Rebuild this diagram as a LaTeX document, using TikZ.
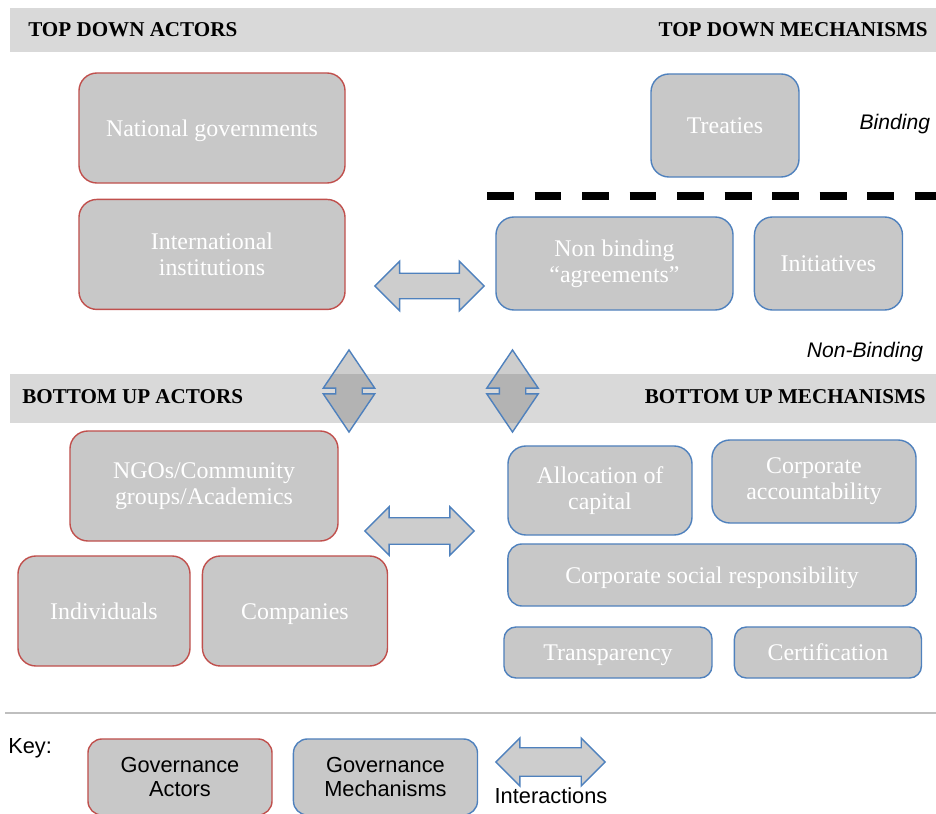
\documentclass[tikz,border=0pt]{standalone}
\usepackage{fontspec}
\setmainfont{Liberation Serif}
\newfontfamily\keyfont{Liberation Sans}
\usetikzlibrary{positioning, shapes.arrows}
\definecolor{actorred}{HTML}{C0504D}
\definecolor{mechblue}{HTML}{4F81BD}
\definecolor{boxgray}{HTML}{C8C8C8}
\definecolor{bandgray}{HTML}{D9D9D9}
\definecolor{rulegray}{HTML}{BFBFBF}
\tikzset{
  gbox/.style={rectangle, rounded corners=0.45cm, draw=#1, fill=boxgray, line width=1pt,
               align=center, text=white, inner sep=2pt,
               font=\fontsize{17}{18.5}\selectfont},
  gbox/.default=actorred,
  actor/.style={gbox=actorred},
  mech/.style={gbox=mechblue},
  oneline/.style={text height=15.5pt, text depth=3.7pt},
  twoline/.style={execute at begin node={\vspace*{4pt}}},
  band/.style={fill=bandgray, draw=none},
  hdr/.style={font=\fontsize{15}{18}\selectfont\bfseries, inner sep=0pt},
  iarrow/.style={double arrow, double arrow head extend=#1, draw=mechblue, line width=1pt,
                 fill=black!60, fill opacity=0.33, draw opacity=1},
  iarrow/.default=0.3cm,
  keytext/.style={font=\keyfont\fontsize{15.5}{17.5}\selectfont, align=center},
  sidetext/.style={font=\keyfont\itshape\fontsize{15}{18}\selectfont},
}

\begin{document}
\begin{tikzpicture}[
  x=0.025cm, y=-0.025cm,
  node distance=0.375cm and 0.5cm
]
  \useasboundingbox (0,0) rectangle (936,814);
  \clip (0,0) rectangle (936,814);

  % header bands
  \fill[band] (10,8) rectangle (936,52);
  \fill[band] (10,374) rectangle (936,423);
  \node[hdr, anchor=west] (tdact) at (28,30) {TOP DOWN ACTORS};
  \node[hdr, anchor=east] (tdmech) at (928,30) {TOP DOWN MECHANISMS};
  \node[hdr, anchor=west] (buact) at (22,397) {BOTTOM UP ACTORS};
  \node[hdr, anchor=east] (bumech) at (926,397) {BOTTOM UP MECHANISMS};

  % top down
  \node[actor, oneline, minimum width=6.65cm, minimum height=2.75cm] (natgov) at (212,128) {National governments};
  \node[actor, minimum width=6.65cm, minimum height=2.75cm, below=of natgov] (intinst) {International\\institutions};
  \node[mech, oneline, minimum width=3.7cm, minimum height=2.575cm] (treaties) at (725,125.5) {Treaties};
  \node[mech, twoline, minimum width=5.925cm, minimum height=2.325cm] (nonbind) at (614.5,263.5) {Non binding\\“agreements”};
  \node[mech, oneline, minimum width=3.7cm, minimum height=2.325cm, right=0.5cm of nonbind] (initiatives) {Initiatives};
  \node[sidetext, anchor=east] (binding) at (935,124) {Binding};
  \node[sidetext, anchor=east] (nonbinding) at (928,352) {Non-Binding};
  \coordinate (dashL) at (487,196);
  \coordinate (dashR) at (940,196);
  \draw[line width=5pt, dash pattern=on 19.1pt off 14.7pt] (dashL) -- (dashR);

  % bottom up
  \node[actor, twoline, minimum width=6.7cm, minimum height=2.75cm] (ngos) at (204,486) {NGOs/Community\\groups/Academics};
  \node[actor, oneline, minimum width=4.3cm, minimum height=2.75cm] (indiv) at (104,611) {Individuals};
  \node[actor, oneline, minimum width=4.625cm, minimum height=2.75cm, right=0.275cm of indiv] (companies) {Companies};
  \node[mech, twoline, minimum width=4.6cm, minimum height=2.225cm] (alloc) at (600,490.5) {Allocation of\\capital};
  \node[mech, twoline, minimum width=5.1cm, minimum height=2.075cm] (corpacc) at (814,481.5) {Corporate\\accountability};
  \node[mech, oneline, minimum width=10.2cm, minimum height=1.55cm, rounded corners=0.35cm] (csr) at (712,575) {Corporate social responsibility};
  \node[mech, oneline, minimum width=5.2cm, minimum height=1.275cm, rounded corners=0.3cm] (transp) at (608,652.5) {Transparency};
  \node[mech, oneline, minimum width=4.675cm, minimum height=1.275cm, rounded corners=0.3cm, right=0.525cm of transp] (cert) {Certification};

  % interactions
  \node[iarrow, inner sep=0.3cm, minimum height=2.725cm] (arrtop) at (429.5,286) {};
  \node[iarrow=0.275cm, inner sep=0.3125cm, minimum height=2.725cm] (arrbot) at (419.5,531) {};
  \node[iarrow=0.3125cm, inner sep=0.3125cm, double arrow tip angle=68, shape border rotate=90,
        minimum height=2.05cm] (varrA) at (349,391) {};
  \node[iarrow=0.3125cm, inner sep=0.3125cm, double arrow tip angle=68, shape border rotate=90,
        minimum height=2.05cm] (varrB) at (512.5,391) {};

  % key
  \draw[rulegray, line width=1.2pt] (5,713) -- (936,713);
  \node[keytext, anchor=west, inner sep=0pt] (keylbl) at (8,748) {Key:};
  \node[actor, keytext, text=black, minimum width=4.6cm, minimum height=1.9cm, rounded corners=0.35cm] (keyact) at (180,777) {Governance\\Actors};
  \node[mech, keytext, text=black, minimum width=4.6cm, minimum height=1.9cm, rounded corners=0.35cm, right=0.5cm of keyact] (keymech) {Governance\\Mechanisms};
  \node[iarrow=0.24cm, inner sep=0.3375cm, minimum height=2.725cm] (arrkey) at (550.5,762) {};
  \node[keytext, inner sep=0pt] (keyint) at (551,796) {Interactions};
\end{tikzpicture}
\end{document}
